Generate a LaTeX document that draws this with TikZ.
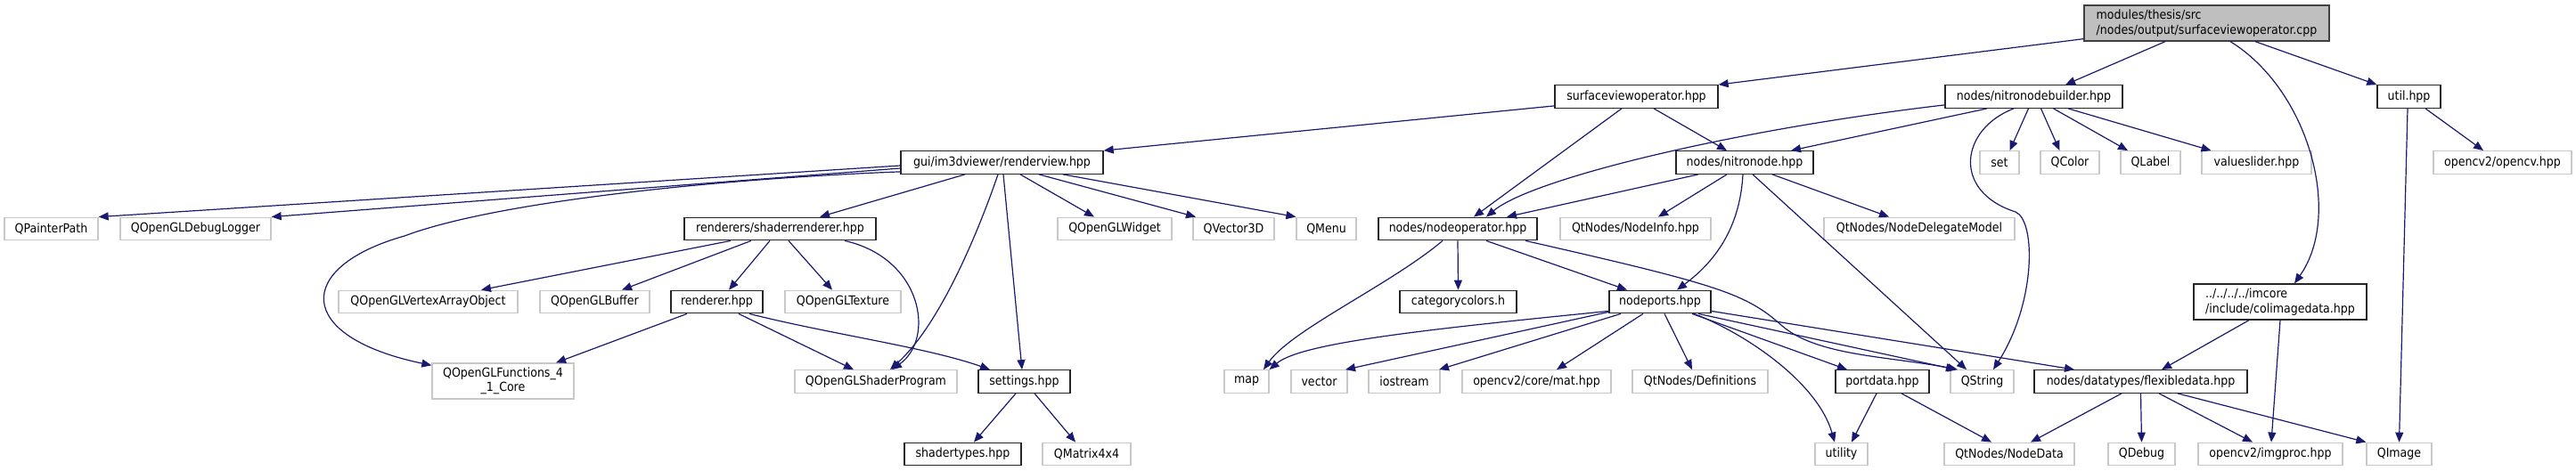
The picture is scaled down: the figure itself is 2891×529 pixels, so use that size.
\documentclass[tikz,border=0pt]{standalone}
\usepackage{fontspec}
\setmainfont{DejaVu Sans Condensed}
\usetikzlibrary{arrows.meta}
\definecolor{edgeblue}{HTML}{191970}
\definecolor{extgray}{HTML}{C8C8C8}
\definecolor{rootgray}{HTML}{BFBFBF}
\begin{document}
\begin{tikzpicture}[x=1pt,y=-1pt,
  box/.style={draw=black!85, line width=1.3pt, fill=white, inner sep=0pt, minimum height=25.5pt, font=\fontsize{14}{16.5}\selectfont},
  ext/.style={box, draw=extgray},
  rootbox/.style={box, fill=rootgray, draw=black!75, minimum height=40pt, align=left},
  dep/.style={draw=edgeblue, line width=1.2pt, -{Triangle[length=11pt,width=9pt]}}]
\useasboundingbox[fill=white] (0,0) rectangle (2891,529);
% row 0
\node[rootbox, minimum width=275pt] (root) at (2476.5,26) {modules/thesis/src\\/nodes/output/surfaceviewoperator.cpp};
% row 1
\node[box, minimum width=183pt] (svo) at (1836.5,108.5) {surfaceviewoperator.hpp};
\node[box, minimum width=199pt] (nnb) at (2282.5,108.5) {nodes/nitronodebuilder.hpp};
\node[box, minimum width=71pt] (util) at (2703.5,108.5) {util.hpp};
% row 2
\node[box, minimum width=227pt] (rv) at (1124.5,182.5) {gui/im3dviewer/renderview.hpp};
\node[box, minimum width=154pt] (nn) at (1958,182.5) {nodes/nitronode.hpp};
\node[ext, minimum width=44pt] (set) at (2244,182.5) {set};
\node[ext, minimum width=66pt] (qcolor) at (2323,182.5) {QColor};
\node[ext, minimum width=67pt] (qlabel) at (2413.5,182.5) {QLabel};
\node[ext, minimum width=123pt] (vslider) at (2532.5,182.5) {valueslider.hpp};
\node[ext, minimum width=155pt] (ocv) at (2808.5,182.5) {opencv2/opencv.hpp};
% row 3
\node[ext, minimum width=105pt] (qpp) at (57.5,257) {QPainterPath};
\node[ext, minimum width=169pt] (qgldl) at (219.5,257) {QOpenGLDebugLogger};
\node[box, minimum width=215pt] (sr) at (875.5,257) {renderers/shaderrenderer.hpp};
\node[ext, minimum width=128pt] (qglw) at (1251,257) {QOpenGLWidget};
\node[ext, minimum width=91pt] (qv3) at (1384.5,257) {QVector3D};
\node[ext, minimum width=67pt] (qmenu) at (1488.5,257) {QMenu};
\node[box, minimum width=178pt] (nop) at (1636,257) {nodes/nodeoperator.hpp};
\node[ext, minimum width=169pt] (ninfo) at (1835.5,257) {QtNodes/NodeInfo.hpp};
\node[ext, minimum width=214pt] (ndm) at (2154,257) {QtNodes/NodeDelegateModel};
% row 4
\node[ext, minimum width=201pt] (vao) at (480.5,339) {QOpenGLVertexArrayObject};
\node[ext, minimum width=123pt] (qbuf) at (667.5,339) {QOpenGLBuffer};
\node[box, minimum width=103pt] (rend) at (804.5,339) {renderer.hpp};
\node[ext, minimum width=130pt] (qtex) at (946,339) {QOpenGLTexture};
\node[box, minimum width=131pt] (cc) at (1636.5,339) {categorycolors.h};
\node[box, minimum width=114pt] (np) at (1863,339) {nodeports.hpp};
\node[box, minimum width=194pt, minimum height=40pt, align=left] (cid) at (2559,339) {../../../../imcore\\/include/colimagedata.hpp};
% row 5
\node[ext, minimum width=159pt, minimum height=40pt, align=center] (qfun) at (564.5,428) {QOpenGLFunctions\_4\\\_1\_Core};
\node[ext, minimum width=182pt] (qsp) at (983,428.5) {QOpenGLShaderProgram};
\node[box, minimum width=103pt] (sett) at (1149.5,428.5) {settings.hpp};
\node[ext, minimum width=50pt] (map) at (1399,428.5) {map};
\node[ext, minimum width=63pt] (vec) at (1480.5,428.5) {vector};
\node[ext, minimum width=80pt] (ios) at (1576,428.5) {iostream};
\node[ext, minimum width=167pt] (mat) at (1724.5,428.5) {opencv2/core/mat.hpp};
\node[ext, minimum width=152pt] (defs) at (1908,428.5) {QtNodes/Definitions};
\node[box, minimum width=105pt] (pd) at (2112.5,428.5) {portdata.hpp};
\node[ext, minimum width=71pt] (qstr) at (2224.5,428.5) {QString};
\node[box, minimum width=239pt] (fd) at (2402.5,428.5) {nodes/datatypes/flexibledata.hpp};
% row 6
\node[box, minimum width=131pt] (st) at (1080.5,510) {shadertypes.hpp};
\node[ext, minimum width=99pt] (qm44) at (1219.5,510) {QMatrix4x4};
\node[ext, minimum width=59pt] (utility) at (2066.5,510) {utility};
\node[ext, minimum width=146pt] (nd) at (2255,510) {QtNodes/NodeData};
\node[ext, minimum width=75pt] (qdbg) at (2403.5,510) {QDebug};
\node[ext, minimum width=162pt] (imgp) at (2548,510) {opencv2/imgproc.hpp};
\node[ext, minimum width=73pt] (qimg) at (2692.5,510) {QImage};
% edges: root
\draw[dep] ([yshift=3pt]root.south west) -- (svo.north east);
\draw[dep] ([xshift=-46.5pt]root.south) -- ([xshift=35.5pt]nnb.north);
\draw[dep] ([xshift=26.5pt]root.south) .. controls (2590,100) and (2630,240) .. ([xshift=16pt]cid.north);
\draw[dep] ([xshift=54.5pt]root.south) -- (util.north west);
% surfaceviewoperator.hpp
\draw[dep] ([yshift=3pt]svo.south west) -- (rv.north east);
\draw[dep] ([xshift=-16.5pt]svo.south) -- ([xshift=18pt]nop.north);
\draw[dep] ([xshift=19.5pt]svo.south) -- ([xshift=-20pt]nn.north);
% nitronodebuilder
\draw[dep] ([yshift=4pt]nnb.south west) .. controls (1950,145) and (1720,200) .. ([xshift=32pt]nop.north);
\draw[dep] ([xshift=-52.5pt]nnb.south) -- ([xshift=52pt]nn.north);
\draw[dep] ([xshift=-6pt]nnb.south) -- ([xshift=11.5pt]set.north);
\draw[dep] ([xshift=8pt]nnb.south) -- ([xshift=-11.5pt]qcolor.north);
\draw[dep] ([xshift=22pt]nnb.south) -- ([xshift=-25.5pt]qlabel.north);
\draw[dep] ([xshift=38.5pt]nnb.south) -- ([xshift=-51pt]vslider.north);
\draw[dep] ([xshift=-22.5pt]nnb.south) .. controls (2200,145) and (2190,215) .. (2262,238) .. controls (2285,248) and (2285,340) .. ([xshift=12.5pt]qstr.north);
% util
\draw[dep] ([xshift=18.5pt]util.south) -- ([xshift=-21.5pt]ocv.north);
\draw[dep] ([xshift=-1.5pt]util.south) -- (qimg.north);
% renderview
\draw[dep] ([yshift=-3.5pt]rv.west) -- (qpp.north east);
\draw[dep] ([yshift=-6.5pt]rv.west) -- (qgldl.north east);
\draw[dep] ([yshift=3pt]rv.south west) .. controls (820,200) and (560,225) .. (454,265) .. controls (330,300) and (330,378) .. ([yshift=-3pt]qfun.north west);
\draw[dep] ([xshift=-41.5pt]rv.south) -- ([xshift=44.5pt]sr.north);
\draw[dep] ([xshift=-4.5pt]rv.south) .. controls (1105,240) and (1060,360) .. ([xshift=16pt]qsp.north);
\draw[dep] ([xshift=1.5pt]rv.south) -- ([xshift=-2.5pt]sett.north);
\draw[dep] ([xshift=20.5pt]rv.south) -- ([xshift=-23pt]qglw.north);
\draw[dep] ([xshift=41.5pt]rv.south) -- ([xshift=-42.5pt]qv3.north);
\draw[dep] ([xshift=68.5pt]rv.south) -- (qmenu.north west);
% shaderrenderer
\draw[dep] ([xshift=-55.5pt]sr.south) -- ([xshift=59.5pt]vao.north);
\draw[dep] ([xshift=-32.5pt]sr.south) -- ([xshift=30.5pt]qbuf.north);
\draw[dep] ([xshift=-11.5pt]sr.south) -- ([xshift=13.5pt]rend.north);
\draw[dep] ([xshift=9.5pt]sr.south) -- ([xshift=-12pt]qtex.north);
\draw[dep] ([xshift=72.5pt]sr.south) .. controls (1035,290) and (1050,380) .. ([xshift=18pt]qsp.north);
% renderer
\draw[dep] ([xshift=-33.5pt]rend.south) -- ([xshift=59.5pt]qfun.north);
\draw[dep] ([xshift=24.5pt]rend.south) -- ([xshift=-25pt]qsp.north);
\draw[dep] ([xshift=36.5pt]rend.south) .. controls (930,375) and (1040,390) .. ([xshift=-38.5pt]sett.north);
% settings
\draw[dep] ([xshift=-9.5pt]sett.south) -- ([xshift=12.5pt]st.north);
\draw[dep] ([xshift=11.5pt]sett.south) -- ([xshift=-12.5pt]qm44.north);
% nitronode
\draw[dep] ([xshift=-52pt]nn.south) -- ([xshift=55pt]nop.north);
\draw[dep] ([xshift=-20pt]nn.south) -- ([xshift=25.5pt]ninfo.north);
\draw[dep] ([xshift=-2pt]nn.south) .. controls (1953,250) and (1930,290) .. ([xshift=19pt]np.north);
\draw[dep] ([xshift=9pt]nn.south) -- ([xshift=-17.5pt]qstr.north);
\draw[dep] ([xshift=31pt]nn.south) -- ([xshift=-34pt]ndm.north);
% nodeoperator
\draw[dep] ([xshift=-17pt]nop.south) .. controls (1560,320) and (1450,370) .. ([xshift=19pt]map.north);
\draw[dep] (nop.south) -- (cc.north);
\draw[dep] ([xshift=32pt]nop.south) -- ([xshift=-37pt]np.north);
\draw[dep] ([xshift=76pt]nop.south) .. controls (1930,320) and (1960,330) .. (2000,366) .. controls (2040,400) and (2120,400) .. ([xshift=-27.5pt]qstr.north);
% nodeports
\draw[dep] ([yshift=3pt]np.south west) .. controls (1600,370) and (1460,385) .. (map.north east);
\draw[dep] ([yshift=2pt]np.south west) -- ([xshift=29.5pt]vec.north);
\draw[dep] ([xshift=-44pt]np.south) -- ([xshift=39pt]ios.north);
\draw[dep] ([xshift=-19pt]np.south) -- ([xshift=22.5pt]mat.north);
\draw[dep] ([xshift=5pt]np.south) -- ([xshift=-9pt]defs.north);
\draw[dep] ([xshift=36pt]np.south) -- ([xshift=-39.5pt]pd.north);
\draw[dep] ([xshift=38pt]np.south) .. controls (1960,375) and (2040,430) .. ([xshift=-7.5pt]utility.north);
\draw[dep] ([xshift=43pt]np.south) -- ([xshift=-29.5pt]qstr.north);
\draw[dep] ([yshift=3pt]np.south east) -- ([xshift=-74.5pt]fd.north);
% portdata
\draw[dep] ([xshift=-6.5pt]pd.south) -- ([xshift=11.5pt]utility.north);
\draw[dep] ([xshift=21.5pt]pd.south) -- ([xshift=-20pt]nd.north);
% flexibledata
\draw[dep] ([xshift=-21.5pt]fd.south) -- ([xshift=24pt]nd.north);
\draw[dep] (fd.south) -- (qdbg.north);
\draw[dep] ([xshift=20.5pt]fd.south) -- ([xshift=-20pt]imgp.north);
\draw[dep] ([xshift=41.5pt]fd.south) -- (qimg.north west);
% colimagedata
\draw[dep] ([xshift=-35pt]cid.south) -- ([xshift=23.5pt]fd.north);
\draw[dep] (cid.south) -- ([xshift=1pt]imgp.north);
\end{tikzpicture}
\end{document}
